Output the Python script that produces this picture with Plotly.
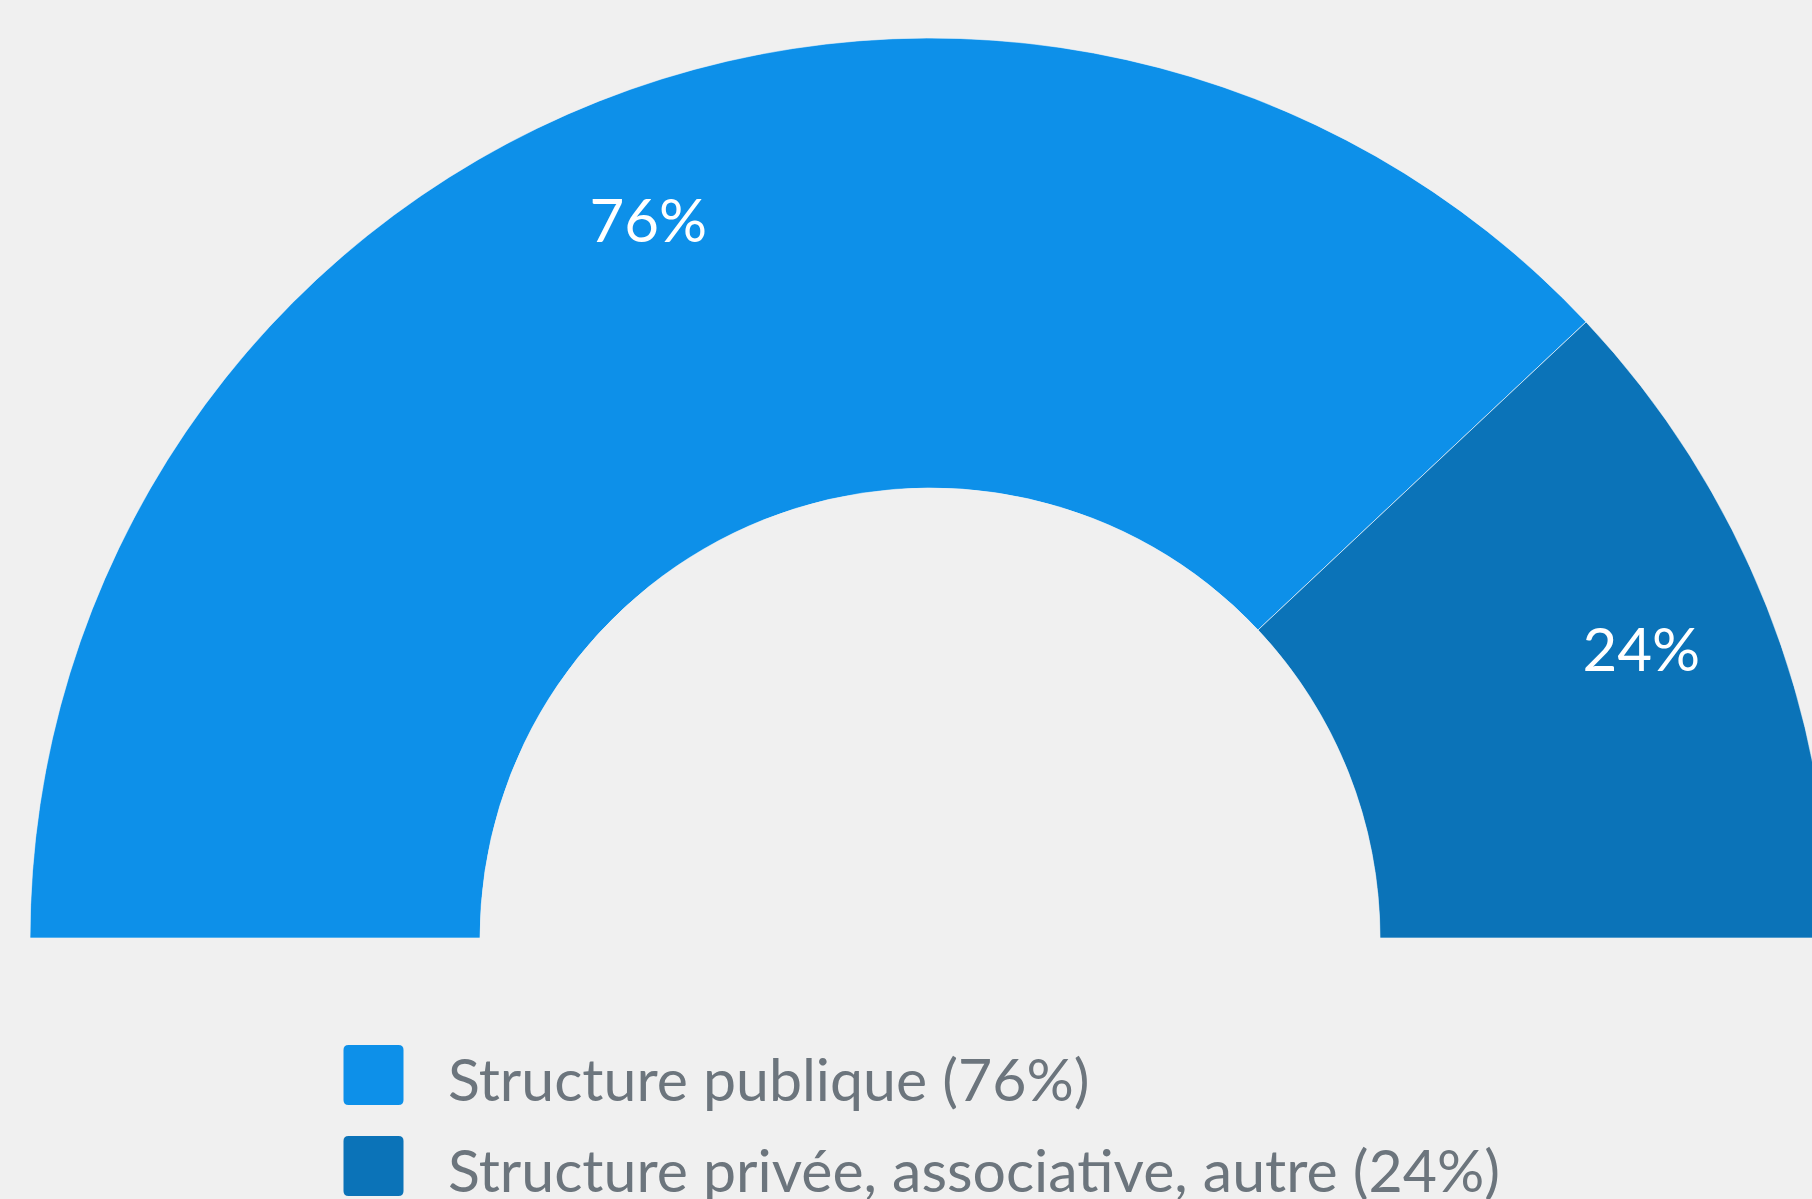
import numpy as np
import plotly.graph_objects as go

# ---- data ----
categories = ["Structure publique", "Structure privée, associative, autre"]
values = [76, 24]

# ---- styles ----
colors = ["#0d90e9", "#0b73b8"]
W, H = 1860, 1199          # figure is wider than the window; the right part is clipped like the reference
FONT = "Lato"
LEGEND_COLOR = "#6c757d"

vals = np.array(values, dtype=float)
share = vals / vals.sum()
widths = share * 180.0
starts = np.concatenate([[0.0], np.cumsum(widths)[:-1]])
mids = starts + widths / 2

fig = go.Figure()
for cat, v, w, m, c in zip(categories, values, widths, mids, colors):
    fig.add_trace(go.Barpolar(
        r=[1], theta=[m], width=[w], name=f"{cat} ({v}%)",
        marker=dict(color=c, line=dict(color="rgba(255,255,255,0.6)", width=1)),
        showlegend=False, hoverinfo="name",
    ))

fig.add_trace(go.Scatterpolar(
    r=[0.70] * len(values), theta=mids, mode="text",
    text=[f"{v}%" for v in values],
    textfont=dict(family=FONT, size=60, color="white"),
    showlegend=False, hoverinfo="skip",
))

# legend (custom, large rounded squares)
h, rr = 30, 5
sq = (f"M {-h+rr},{-h} L {h-rr},{-h} Q {h},{-h} {h},{-h+rr} L {h},{h-rr} Q {h},{h} {h-rr},{h} "
      f"L {-h+rr},{h} Q {-h},{h} {-h},{h-rr} L {-h},{-h+rr} Q {-h},{-h} {-h+rr},{-h} Z")
row_y = [1075, 1166]
for i, (cat, v, c) in enumerate(zip(categories, values, colors)):
    fig.add_shape(type="path", path=sq, xref="paper", yref="paper",
                  xsizemode="pixel", ysizemode="pixel",
                  xanchor=373.5 / W, yanchor=1 - row_y[i] / H,
                  fillcolor=c, line=dict(width=0))
    fig.add_annotation(x=446 / W, y=1 - (row_y[i] + 3) / H, xref="paper", yref="paper",
                       xanchor="left", yanchor="middle", showarrow=False,
                       text=f"{cat} ({v}%)",
                       font=dict(family=FONT, size=59, color=LEGEND_COLOR))

fig.update_layout(
    width=W, height=H,
    margin=dict(l=0, r=0, t=0, b=0),
    paper_bgcolor="#f0f0f0",
    plot_bgcolor="#f0f0f0",
    showlegend=False,
    polar=dict(
        domain=dict(x=[0.0, 1.0], y=[(H - 938) / H, (H - 38) / H]),
        sector=[0, 180],
        hole=0.5,
        bgcolor="rgba(0,0,0,0)",
        radialaxis=dict(range=[0, 1], visible=False, showgrid=False),
        angularaxis=dict(visible=False, rotation=180, direction="clockwise",
                         showgrid=False, thetaunit="degrees"),
        bargap=0,
    ),
)

fig.write_html(
    "out.html",
    config={"displayModeBar": False},
    post_script="document.body.style.margin='0';document.body.style.overflow='hidden';"
                "document.documentElement.style.overflow='hidden';",
)
